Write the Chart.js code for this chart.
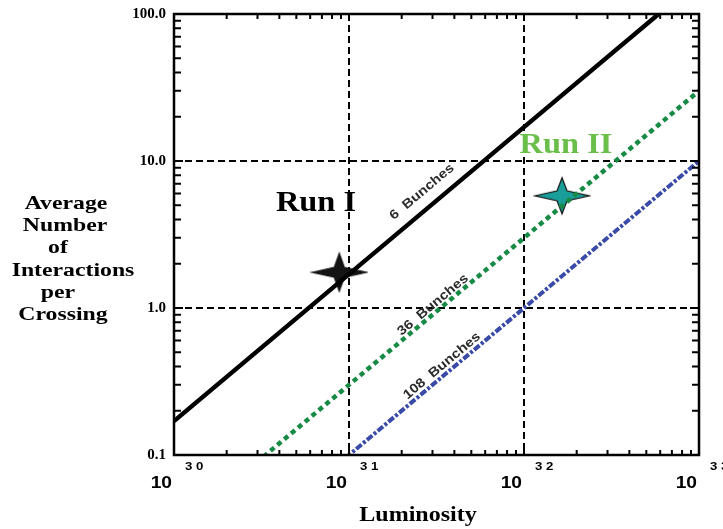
<!DOCTYPE html>
<html>
<head>
<meta charset="utf-8">
<script src="https://cdn.jsdelivr.net/npm/chart.js@4/dist/chart.umd.min.js"></script>
<style>
  body { margin: 0; background: #fff; }
  #wrap { width: 723px; height: 529px; }
</style>
</head>
<body>
<div id="wrap"><canvas id="myChart" width="723" height="529"></canvas></div>
<script>
// Data block
const luminosity = [1e30, 1e31, 1e32, 1e33];
const bunches6 = [0.17, 1.7, 17, 170];
const bunches36 = [0.03, 0.3, 3, 30];
const bunches108 = [0.01, 0.1, 1, 10];

const starLum = [8.8e30, 1.65e32];
const starMu = [1.75, 5.8];

const xTicks = [1e30, 1e31, 1e32, 1e33];
const yTicks = [0.1, 1, 10, 100];

// helpers
function pts(xs, ys) {
  return xs.map((v, i) => ({ x: v, y: ys[i] }));
}

function makeStar(fill, halfW, halfH, r) {
  const c = document.createElement("canvas");
  c.width = halfW * 2 + 4;
  c.height = halfH * 2 + 4;
  const g = c.getContext("2d");
  const cx = c.width / 2, cy = c.height / 2;
  g.beginPath();
  g.moveTo(cx - halfW, cy);
  g.lineTo(cx - r, cy - r);
  g.lineTo(cx, cy - halfH);
  g.lineTo(cx + r, cy - r);
  g.lineTo(cx + halfW, cy);
  g.lineTo(cx + r, cy + r);
  g.lineTo(cx, cy + halfH);
  g.lineTo(cx - r, cy + r);
  g.closePath();
  g.fillStyle = fill;
  g.fill();
  g.strokeStyle = "#111";
  g.lineWidth = 1.2;
  g.stroke();
  return c;
}

function txt(ctx, s, x, y, font, color, align, sx, rot) {
  ctx.save();
  ctx.font = font;
  ctx.fillStyle = color;
  ctx.textAlign = align;
  ctx.textBaseline = "middle";
  ctx.translate(x, y);
  if (rot) ctx.rotate(rot);
  ctx.scale(sx, 1);
  ctx.fillText(s, 0, 0);
  ctx.restore();
}

function isDecadeInside(scale, v) {
  return v > scale.min * 1.0001 && v < scale.max * 0.9999;
}

// frame, inner ticks and all the loose text
const decorations = {
  id: "decorations",
  afterDraw(chart) {
    const ctx = chart.ctx;
    const a = chart.chartArea;
    const xs = chart.scales.x;
    const ys = chart.scales.y;

    ctx.save();
    ctx.strokeStyle = "#000";
    ctx.lineWidth = 2;
    // minor ticks on x (bottom and top)
    for (let e = 30; e < 33; e++) {
      for (let m = 1; m <= 9; m++) {
        const v = m * Math.pow(10, e);
        const px = xs.getPixelForValue(v);
        const len = m === 1 ? 7 : 5;
        ctx.beginPath();
        ctx.moveTo(px, a.bottom);
        ctx.lineTo(px, a.bottom - len);
        ctx.moveTo(px, a.top);
        ctx.lineTo(px, a.top + len);
        ctx.stroke();
      }
    }
    // minor ticks on y (left and right)
    for (let e = -1; e < 2; e++) {
      for (let m = 1; m <= 9; m++) {
        const v = m * Math.pow(10, e);
        const py = ys.getPixelForValue(v);
        const len = m === 1 ? 9 : 7;
        ctx.beginPath();
        ctx.moveTo(a.left, py);
        ctx.lineTo(a.left + len, py);
        ctx.moveTo(a.right, py);
        ctx.lineTo(a.right - len, py);
        ctx.stroke();
      }
    }
    // frame
    ctx.lineWidth = 2.5;
    ctx.strokeRect(a.left, a.top, a.right - a.left, a.bottom - a.top);
    ctx.restore();

    // x tick labels: 10 with exponent
    xTicks.forEach((v) => {
      const px = xs.getPixelForValue(v);
      const ex = Math.round(Math.log10(v));
      txt(ctx, "10", px - 2, 484, "bold 16px 'Liberation Sans'", "#000", "right", 1.2);
      txt(ctx, String(ex).split("").join(" "), px + 11, 467, "bold 11px 'Liberation Sans'", "#000", "left", 1.2);
    });

    // axis titles
    txt(ctx, "Luminosity", 418, 516, "bold 20px 'Liberation Serif'", "#000", "center", 1.2);
    const yTitle = ["Average", "Number", "of", "Interactions", "per", "Crossing"];
    const yTitleX = [66, 65, 58, 73, 58, 63];
    yTitle.forEach((s, i) => {
      txt(ctx, s, yTitleX[i], 204 + i * 22.2, "bold 19px 'Liberation Serif'", "#000", "center", 1.25);
    });

    // run labels
    txt(ctx, "Run I", 316, 203, "bold 30px 'Liberation Serif'", "#000", "center", 1.08);
    txt(ctx, "Run II", 566, 145, "bold 30px 'Liberation Serif'", "#6abf4b", "center", 1.08);

    // bunch labels along the lines
    const rot = -40 * Math.PI / 180;
    const bf = "bold 13px 'Liberation Sans'";
    txt(ctx, "6  Bunches", 422, 192, bf, "#2b2b2b", "center", 1.15, rot);
    txt(ctx, "36  Bunches", 433, 305, bf, "#2b2b2b", "center", 1.15, rot);
    txt(ctx, "108  Bunches", 442, 366, bf, "#2b2b2b", "center", 1.15, rot);
  },
};

function mainChart() {
  const data = {
    datasets: [
      {
        label: "6 Bunches",
        data: pts(luminosity, bunches6),
        borderColor: "#000",
        borderWidth: 4.5,
        pointRadius: 0,
      },
      {
        label: "36 Bunches",
        data: pts(luminosity, bunches36),
        borderColor: "#178a45",
        borderWidth: 4.5,
        borderDash: [5, 4],
        pointRadius: 0,
      },
      {
        label: "108 Bunches",
        data: pts(luminosity, bunches108),
        borderColor: "#3a4aa8",
        borderWidth: 4,
        borderDash: [7, 2, 3, 2],
        pointRadius: 0,
      },
      {
        type: "scatter",
        label: "Runs",
        data: pts(starLum, starMu),
        showLine: false,
        pointStyle: [makeStar("#141414", 27, 19, 5), makeStar("#1a9e9a", 27, 18, 5)],
        clip: false,
      },
    ],
  };

  const options = {
    responsive: false,
    animation: false,
    layout: {
      padding: { top: 14, right: 24, left: 0, bottom: 0 },
    },
    plugins: {
      legend: { display: false },
      tooltip: { enabled: false },
    },
    scales: {
      x: {
        type: "logarithmic",
        min: 1e30,
        max: 1e33,
        afterBuildTicks: (scale) => {
          scale.ticks = xTicks.map((v) => ({ value: v }));
        },
        afterFit: (scale) => {
          scale.height = 74;
          scale.paddingLeft = 0;
          scale.paddingRight = 0;
        },
        ticks: { display: false },
        border: { display: false, dash: [7, 4] },
        grid: {
          drawTicks: false,
          lineWidth: 2,
          color: (c) => (c.tick && isDecadeInside(c.scale, c.tick.value) ? "#000" : "rgba(0,0,0,0)"),
        },
      },
      y: {
        type: "logarithmic",
        min: 0.1,
        max: 100,
        afterBuildTicks: (scale) => {
          scale.ticks = yTicks.map((v) => ({ value: v }));
        },
        afterFit: (scale) => {
          scale.width = 174;
          scale.paddingTop = 0;
          scale.paddingBottom = 0;
        },
        ticks: {
          color: "#000",
          padding: 8,
          font: { family: "'Liberation Serif'", size: 15, weight: "bold" },
          callback: function (value) {
            return Number(value).toFixed(1);
          },
        },
        border: { display: false, dash: [7, 4] },
        grid: {
          drawTicks: false,
          lineWidth: 2,
          color: (c) => (c.tick && isDecadeInside(c.scale, c.tick.value) ? "#000" : "rgba(0,0,0,0)"),
        },
      },
    },
    elements: {
      line: { tension: 0 },
    },
  };

  // Render Block
  const myChart = new Chart(document.getElementById("myChart"), {
    type: "line",
    data: data,
    options: options,
    plugins: [decorations],
  });
}

mainChart();
</script>
</body>
</html>
